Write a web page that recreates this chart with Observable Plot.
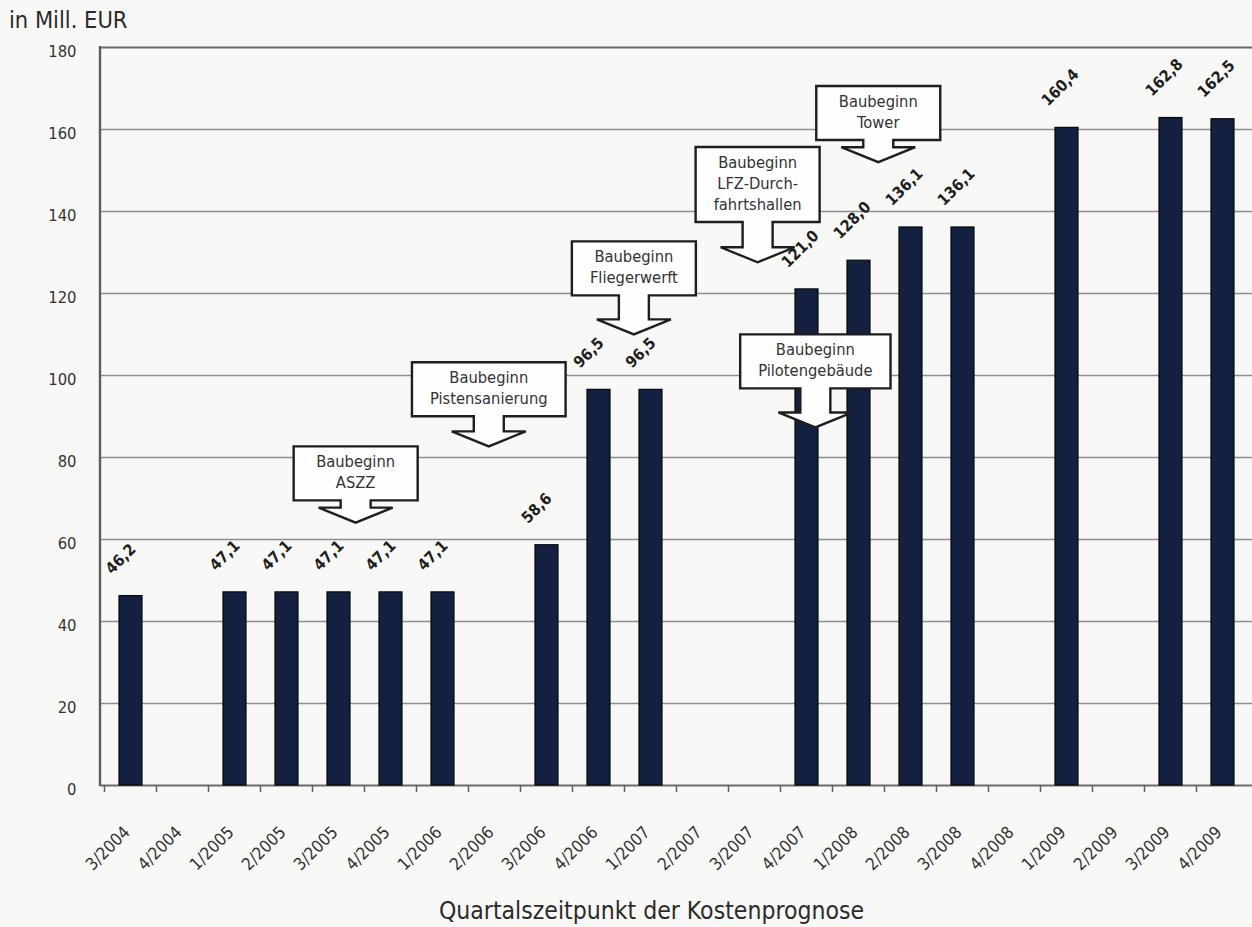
<!DOCTYPE html>
<html><head><meta charset="utf-8">
<script src="https://cdn.jsdelivr.net/npm/d3@7"></script>
<script src="https://cdn.jsdelivr.net/npm/@observablehq/plot@0.6"></script>
<style>
body{margin:0;background:#f8f8f6;}
#wrap{position:relative;width:1252px;height:927px;overflow:hidden;}
#chart{position:absolute;left:0;top:0;}
#titles{position:absolute;left:0;top:0;pointer-events:none;}
</style></head><body>
<div id="wrap"><div id="chart"></div><svg id="titles" width="1252" height="927"></svg></div>
<script>
const quarters = ["3/2004","4/2004","1/2005","2/2005","3/2005","4/2005","1/2006","2/2006","3/2006","4/2006","1/2007","2/2007","3/2007","4/2007","1/2008","2/2008","3/2008","4/2008","1/2009","2/2009","3/2009","4/2009"];
const barQuarters = ["3/2004","1/2005","2/2005","3/2005","4/2005","1/2006","3/2006","4/2006","1/2007","4/2007","1/2008","2/2008","3/2008","1/2009","3/2009","4/2009"];
const barValues = [46.2,47.1,47.1,47.1,47.1,47.1,58.6,96.5,96.5,121.0,128.0,136.1,136.1,160.4,162.8,162.5];
const yTicks = [0,20,40,60,80,100,120,140,160,180];
const yLabel = "in Mill. EUR";
const xLabel = "Quartalszeitpunkt der Kostenprognose";
const annoLines = [["Baubeginn","ASZZ"],["Baubeginn","Pistensanierung"],["Baubeginn","Fliegerwerft"],["Baubeginn","LFZ-Durch-","fahrtshallen"],["Baubeginn","Tower"],["Baubeginn","Pilotengebäude"]];
const annoQuarter = ["3/2005","2/2006","1/2007","3/2007","1/2008","4/2007"];
const annoShift = [0.33,-0.11,-0.32,0.06,0.38,0.17];
const annoTip = [64.0,82.6,109.9,127.5,151.9,87.2];
const annoTop = [82.6,103.1,132.6,155.6,170.5,109.9];

const bars = barQuarters.map((q,i)=>({quarter:q, value:barValues[i]}));
const fmt = v => v.toFixed(1).replace(".", ",");

// font selection & sizing from widths measured in real SVG text
const probe = d3.select("body").append("svg").attr("width", 10).attr("height", 10)
  .style("position", "absolute").style("left", "0").style("top", "0").style("visibility", "hidden");
function measure(text, family, size, weight){
  const t = probe.append("text").style("font-family", family).style("font-size", size + "px")
    .style("font-weight", weight || "normal").text(text);
  const w = t.node().getComputedTextLength(); t.remove(); return w;
}
function has(fam){
  const s = "Baubeginn 128,0 Pistensanierung";
  return Math.abs(measure(s, `"${fam}", monospace`, 100) - measure(s, "monospace", 100)) > 0.5 &&
         Math.abs(measure(s, `"${fam}", serif`, 100) - measure(s, "serif", 100)) > 0.5;
}
const FAM = ["Liberation Sans Narrow","DejaVu Sans Condensed","DejaVu Sans"].find(has) || "DejaVu Sans";
const FONT = `"${FAM}", sans-serif`;
const fit = (text, target, weight) => 100*target/measure(text, FONT, 100, weight);
const calloutSize = 1.06*fit("Pistensanierung", 111);
const valueSize = 1.15*fit("128,0", 39, "bold");
const xTickSize = 1.12*fit("4/2004", 48);
const yTickSize = 1.13*fit("180", 25);
const yLabSize = 1.04*fit(yLabel, 114);
const titleSize = 1.02*fit(xLabel, 417);
const calloutWidths = annoLines.map(lines => d3.max(lines, s => measure(s, FONT, calloutSize)));
probe.remove();

function stepOf(scales, dim){
  return (scales.x && scales.x.step) ? scales.x.step() : (dim.width - dim.marginLeft - dim.marginRight)/quarters.length;
}
function centerOf(q, scales, dim){
  if (scales.x && scales.x.bandwidth) return scales.x(q) + scales.x.bandwidth()/2;
  return dim.marginLeft + (quarters.indexOf(q)+0.5)*stepOf(scales, dim);
}

function axisFrame(index, scales, values, dim){
  const g = d3.create("svg:g");
  const step = stepOf(scales, dim);
  const y0 = scales.y(0), yTop = scales.y(180);
  g.append("line").attr("x1", dim.marginLeft).attr("x2", dim.marginLeft).attr("y1", yTop-1).attr("y2", y0+1)
    .attr("stroke", "#5e5e5e").attr("stroke-width", 2.4);
  quarters.forEach(q => {
    const x = centerOf(q, scales, dim) - step/2;
    g.append("line").attr("x1", x).attr("x2", x).attr("y1", y0).attr("y2", y0+7)
      .attr("stroke", "#5e5e5e").attr("stroke-width", 1.5);
  });
  return g.node();
}

function callouts(index, scales, values, dim){
  const g = d3.create("svg:g");
  const step = stepOf(scales, dim);
  annoLines.forEach((lines, i) => {
    const cx = centerOf(annoQuarter[i], scales, dim) + annoShift[i]*step;
    const tip = scales.y(annoTip[i]);
    const top = scales.y(annoTop[i]);
    const w = Math.max(124, calloutWidths[i] + 36);
    const h = 21 + (lines.length-1)*21 + 12;
    const L = cx - w/2, R = cx + w/2, B = top + h, HB = tip - 15, sw = 15, hw = 37;
    const pts = [[L,top],[R,top],[R,B],[cx+sw,B],[cx+sw,HB],[cx+hw,HB],[cx,tip],[cx-hw,HB],[cx-sw,HB],[cx-sw,B],[L,B]];
    g.append("path").attr("d", "M" + pts.map(p => p.join(",")).join("L") + "Z")
      .attr("fill", "#fefefe").attr("stroke", "#1e1e1e").attr("stroke-width", 2.4).attr("stroke-linejoin", "miter");
    const t = g.append("text").attr("text-anchor", "middle").attr("font-size", calloutSize).attr("fill", "#333");
    lines.forEach((s, k) => t.append("tspan").attr("x", cx).attr("y", top + 21 + k*21).text(s));
  });
  return g.node();
}

const chart = Plot.plot({
  width: 1252, height: 927,
  marginLeft: 100, marginRight: 0, marginTop: 47, marginBottom: 142,
  style: {background: "transparent", fontFamily: FONT, color: "#2b2b2b", overflow: "visible"},
  x: {type: "band", domain: quarters, paddingInner: 0.56, paddingOuter: 0.28, axis: null},
  y: {domain: [0, 180], axis: null},
  marks: [
    Plot.ruleY(yTicks.filter(t => t > 0 && t < 180), {stroke: "#8e8e8e", strokeWidth: 1.4}),
    Plot.ruleY([180], {stroke: "#6a6a6a", strokeWidth: 2}),
    Plot.ruleY([0], {stroke: "#6a6a6a", strokeWidth: 1.8}),
    axisFrame,
    Plot.barY(bars, {x: "quarter", y: "value", fill: "#13203f", stroke: "#080808", strokeWidth: 1.2}),
    Plot.text(bars, {x: "quarter", y: "value", text: d => fmt(d.value), rotate: -45, textAnchor: "start",
      dx: -19 - 0.226*valueSize, dy: -21 - 0.226*valueSize, fontWeight: "bold", fontSize: valueSize, fill: "#1e1e1e"}),
    Plot.text(yTicks, {y: d => d, frameAnchor: "left", dx: -24, dy: 4, textAnchor: "end", text: d => String(d), fontSize: yTickSize, fill: "#333"}),
    Plot.text(quarters, {x: d => d, frameAnchor: "bottom", text: d => d, rotate: -45, textAnchor: "end",
      dx: -5 + 0.283*xTickSize, dy: 43 + 0.283*xTickSize, fontSize: xTickSize, fill: "#333"}),
    callouts
  ]
});
document.getElementById("chart").appendChild(chart);

const titles = d3.select("#titles").style("font-family", FONT).attr("fill", "#2b2b2b");
titles.append("text").attr("x", 9).attr("y", 28).attr("font-size", yLabSize).text(yLabel);
titles.append("text").attr("x", 651.5).attr("y", 919).attr("text-anchor", "middle").attr("font-size", titleSize).text(xLabel);
</script>
</body></html>
